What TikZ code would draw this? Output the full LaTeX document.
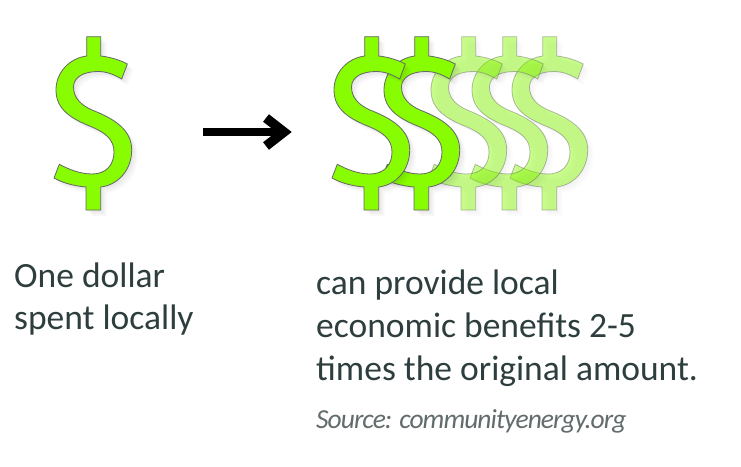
\documentclass[tikz,border=0pt]{standalone}
\usepackage{fontspec}
\setmainfont{Carlito}
\newfontfamily\sourcefont[LetterSpace=-3.5]{Carlito}
\usetikzlibrary{arrows.meta}
\definecolor{dollargreen}{HTML}{88FC00}
\definecolor{textslate}{HTML}{2E3E3E}
\definecolor{sourcegray}{HTML}{626C6C}
\newcommand{\dollarshape}{
  (86.7,36.7) -- (100.7,36.7) -- (100.7,56)
  .. controls (110,57) and (120,60) .. (127.3,64) -- (121.7,79)
  .. controls (113,74) and (106,71.5) .. (98,71.5)
  .. controls (84,71.5) and (73.5,77) .. (73.5,87)
  .. controls (73.5,98) and (81,105) .. (92,110)
  .. controls (115,119) and (131.7,130) .. (131.7,150)
  .. controls (131.7,170) and (118,185) .. (100.7,187) -- (100.7,210) -- (86,210) -- (86,187)
  .. controls (74,186) and (63,183) .. (54,178) -- (59.3,164.3)
  .. controls (68,169) and (80,174) .. (92,174)
  .. controls (106,174) and (114,165) .. (114,152)
  .. controls (114,140) and (106,133) .. (92,127)
  .. controls (72,119) and (56,110) .. (56,90)
  .. controls (56,72) and (70,58) .. (86.7,56) -- cycle}
\tikzset{
  dollarline/.style={draw=black!60, line width=0.8pt, fill=dollargreen},
  bodytext/.style={anchor=base west, inner sep=0pt, font=\fontsize{35.5}{35.5}\selectfont, text=textslate},
  sourcetext/.style={anchor=base west, inner sep=0pt, font=\fontsize{27.5}{27.5}\sourcefont\itshape, text=sourcegray},
  arrowline/.style={line width=8pt, black},
  dollar/.pic={
    \pgfmathsetmacro{\shadowop}{0.022*#1}
    \foreach \off in {1.5,3,4.5,6}
      \fill[black, opacity=\shadowop, shift={(\off,\off)}] \dollarshape;
    \path[dollarline, opacity=#1] \dollarshape;
  }
}
\begin{document}
\begin{tikzpicture}[x=1pt,y=-1pt]
    \useasboundingbox (0,0) rectangle (741,466);
    \fill[white] (0,0) rectangle (741,466);

    % single dollar on the left
    \pic at (0,0) {dollar=1};

    % faded copies, back to front
    \foreach \dx in {456,416,375}
      \pic at (\dx,0) {dollar=0.45};
    \foreach \dx in {328,278}
      \pic at (\dx,0) {dollar=1};

    % arrow
    \coordinate (arrowstart) at (203,132);
    \coordinate (arrowend) at (284,132);
    \coordinate (headupper) at (266,118);
    \coordinate (headlower) at (266,146);
    \draw[arrowline] (arrowstart) -- (arrowend);
    \draw[arrowline, line width=9.5pt, miter limit=4] (headupper) -- (arrowend) -- (headlower);

    % captions
    \node[bodytext] (onedollar) at (14,287) {One dollar};
    \node[bodytext] (spentlocally) at (14,329) {spent locally};
    \node[bodytext] (canprovide) at (316,294) {can provide local};
    \node[bodytext] (economic) at (316,337) {economic benefits 2-5};
    \node[bodytext] (times) at (316,380) {times the original amount.};
    \node[sourcetext] (source) at (316,428) {Source: communityenergy.org};
\end{tikzpicture}
\end{document}
